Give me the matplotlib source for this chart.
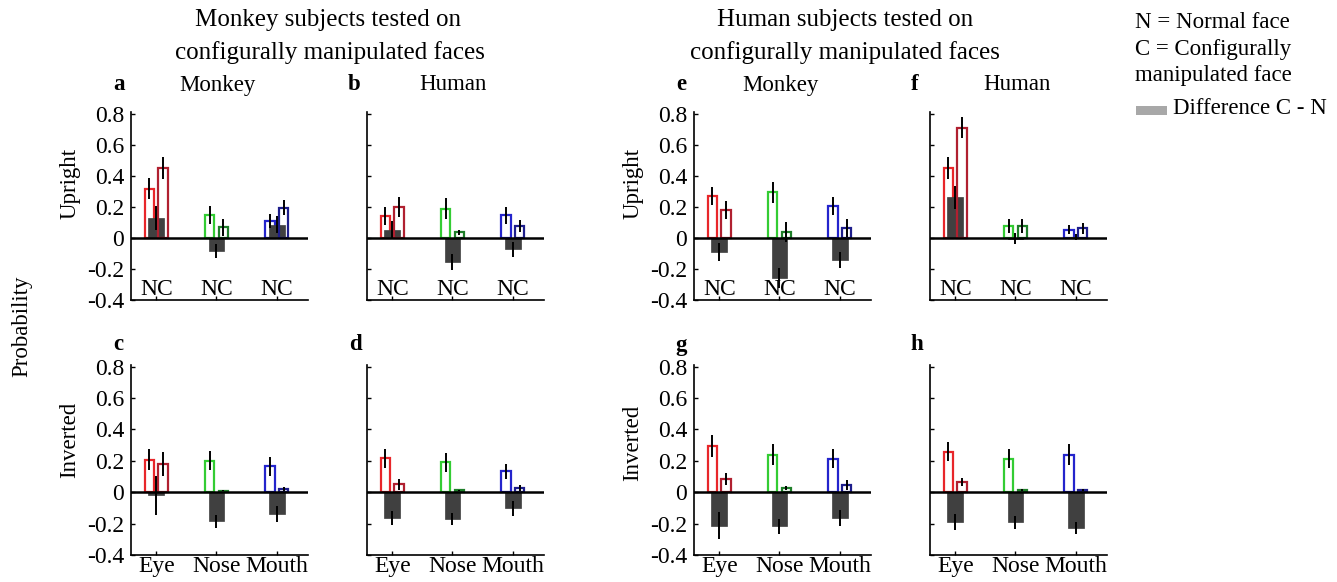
import matplotlib
matplotlib.use("Agg")
import matplotlib.pyplot as plt
from matplotlib.patches import Rectangle
import numpy as np

plt.rcParams['font.family'] = ['Liberation Serif', 'DejaVu Serif']

features = ["Eye", "Nose", "Mouth"]
yticks = [-0.4, -0.2, 0, 0.2, 0.4, 0.6, 0.8]
ytick_labels = ["-0.4", "-0.2", "0", "0.2", "0.4", "0.6", "0.8"]

# Panel values: N = normal face, C = configurally manipulated, D = difference C - N
a_N = [0.317, 0.146, 0.106]; a_Nerr = [0.07, 0.058, 0.045]
a_C = [0.449, 0.068, 0.195]; a_Cerr = [0.073, 0.055, 0.05]
a_D = [0.127, -0.085, 0.085]; a_Derr = [0.075, 0.045, 0.055]

b_N = [0.142, 0.188, 0.146]; b_Nerr = [0.057, 0.067, 0.055]
b_C = [0.199, 0.036, 0.076]; b_Cerr = [0.063, 0.015, 0.038]
b_D = [0.053, -0.155, -0.074]; b_Derr = [0.058, 0.05, 0.05]

c_N = [0.208, 0.200, 0.164]; c_Nerr = [0.067, 0.061, 0.063]
c_C = [0.179, 0.010, 0.021]; c_Cerr = [0.076, 0.005, 0.012]
c_D = [-0.021, -0.185, -0.137]; c_Derr = [0.126, 0.042, 0.05]

d_N = [0.215, 0.190, 0.133]; d_Nerr = [0.06, 0.062, 0.048]
d_C = [0.050, 0.011, 0.027]; d_Cerr = [0.035, 0.005, 0.018]
d_D = [-0.162, -0.171, -0.101]; d_Derr = [0.045, 0.04, 0.048]

e_N = [0.269, 0.292, 0.205]; e_Nerr = [0.06, 0.069, 0.056]
e_C = [0.180, 0.036, 0.061]; e_Cerr = [0.058, 0.065, 0.058]
e_D = [-0.091, -0.258, -0.144]; e_Derr = [0.058, 0.063, 0.05]

f_N = [0.450, 0.077, 0.052]; f_Nerr = [0.073, 0.045, 0.03]
f_C = [0.710, 0.077, 0.063]; f_Cerr = [0.065, 0.045, 0.035]
f_D = [0.260, -0.005, 0.005]; f_Derr = [0.075, 0.035, 0.02]

g_N = [0.295, 0.238, 0.213]; g_Nerr = [0.068, 0.066, 0.061]
g_C = [0.086, 0.025, 0.046]; g_Cerr = [0.039, 0.012, 0.03]
g_D = [-0.213, -0.217, -0.164]; g_Derr = [0.084, 0.047, 0.052]

h_N = [0.257, 0.213, 0.238]; h_Nerr = [0.06, 0.06, 0.066]
h_C = [0.065, 0.013, 0.013]; h_Cerr = [0.026, 0.005, 0.005]
h_D = [-0.192, -0.192, -0.228]; h_Derr = [0.05, 0.04, 0.036]

N_colors = ['#e8262a', '#33cc33', '#2424cc']
C_colors = ['#b02030', '#1f7f2a', '#1e1e8c']
diff_color = '#404040'

W, H = 1337, 582
fig = plt.figure(figsize=(W / 100, H / 100), dpi=100)

def ax_at(left, top, right, bottom):
    return fig.add_axes([left / W, 1 - bottom / H, (right - left) / W, (bottom - top) / H])

FS = 17
LFS = 16.5

def draw_panel(ax, N, Nerr, C, Cerr, D, Derr, show_y, top_row):
    x = np.arange(1, 4)
    off, wn, wd = 0.115, 0.16, 0.26
    ax.bar(x - off, N, width=wn, facecolor='white', edgecolor=N_colors, linewidth=1.6, zorder=2)
    ax.bar(x, D, width=wd, color=diff_color, edgecolor=diff_color, linewidth=0.5, zorder=3)
    ax.bar(x + off, C, width=wn, facecolor='none', edgecolor=C_colors, linewidth=1.6, zorder=4)
    ax.errorbar(x - off, N, yerr=Nerr, fmt='none', ecolor='black', elinewidth=1.4, capsize=0, zorder=5)
    ax.errorbar(x + off, C, yerr=Cerr, fmt='none', ecolor='black', elinewidth=1.4, capsize=0, zorder=5)
    ax.errorbar(x, D, yerr=Derr, fmt='none', ecolor='black', elinewidth=1.4, capsize=0, zorder=5)
    ax.axhline(0, color='black', linewidth=1.8, zorder=6)
    ax.set_xlim(0.58, 3.52)
    ax.set_ylim(-0.4, 0.81)
    ax.set_yticks(yticks)
    ax.set_xticks(x)
    for s in ['top', 'right']:
        ax.spines[s].set_visible(False)
    for s in ['left', 'bottom']:
        ax.spines[s].set_linewidth(1.2)
    ax.tick_params(direction='in', length=3, width=1, labelsize=FS)
    ax.tick_params(axis='y', pad=5)
    if show_y:
        ax.set_yticklabels(ytick_labels)
    else:
        ax.set_yticklabels([])
    if top_row:
        ax.set_xticklabels([])
        for xi in x:
            ax.text(xi, -0.333, "NC", ha='center', va='center', fontsize=FS)
    else:
        ax.set_xticklabels(features)
        ax.tick_params(axis='x', pad=1)

lefts = [131, 367, 694, 930]
aw = 177
top_box = (112, 300)
bot_box = (365, 555)

panels = [
    (lefts[0], top_box, a_N, a_Nerr, a_C, a_Cerr, a_D, a_Derr, True, True),
    (lefts[1], top_box, b_N, b_Nerr, b_C, b_Cerr, b_D, b_Derr, False, True),
    (lefts[0], bot_box, c_N, c_Nerr, c_C, c_Cerr, c_D, c_Derr, True, False),
    (lefts[1], bot_box, d_N, d_Nerr, d_C, d_Cerr, d_D, d_Derr, False, False),
    (lefts[2], top_box, e_N, e_Nerr, e_C, e_Cerr, e_D, e_Derr, True, True),
    (lefts[3], top_box, f_N, f_Nerr, f_C, f_Cerr, f_D, f_Derr, False, True),
    (lefts[2], bot_box, g_N, g_Nerr, g_C, g_Cerr, g_D, g_Derr, True, False),
    (lefts[3], bot_box, h_N, h_Nerr, h_C, h_Cerr, h_D, h_Derr, False, False),
]
for left, (t, b), N, Ne, C, Ce, D, De, sy, tr in panels:
    ax = ax_at(left, t, left + aw, b)
    draw_panel(ax, N, Ne, C, Ce, D, De, sy, tr)

def ftext(x, y, s, **kw):
    kw.setdefault('fontsize', LFS)
    fig.text(x / W, 1 - y / H, s, **kw)

# Group titles
TFS = 18
ftext(328, 20, "Monkey subjects tested on", ha='center', va='center', fontsize=TFS)
ftext(330, 53, "configurally manipulated faces", ha='center', va='center', fontsize=TFS)
ftext(845, 20, "Human subjects tested on", ha='center', va='center', fontsize=TFS)
ftext(845, 53, "configurally manipulated faces", ha='center', va='center', fontsize=TFS)

# Panel letters and subtitles
for s, x, y in [("a", 119, 85), ("b", 354, 85), ("c", 118, 344), ("d", 355, 344),
                ("e", 681, 85), ("f", 915, 85), ("g", 681, 345), ("h", 917, 345)]:
    ftext(x, y, s, ha='center', va='center', fontweight='bold')
for s, x in [("Monkey", 217), ("Human", 453), ("Monkey", 780), ("Human", 1017)]:
    ftext(x, 85, s, ha='center', va='center')

# Row labels
ftext(70, 183, "Upright", ha='center', va='center', rotation=90)
ftext(70, 440, "Inverted", ha='center', va='center', rotation=90)
ftext(633, 183, "Upright", ha='center', va='center', rotation=90)
ftext(633, 443, "Inverted", ha='center', va='center', rotation=90)
ftext(22, 326, "Probability", ha='center', va='center', rotation=90)

# Legend text
ftext(1135, 22, "N = Normal face", ha='left', va='center')
ftext(1135, 49, "C = Configurally", ha='left', va='center')
ftext(1135, 76, "manipulated face", ha='left', va='center')
fig.patches.append(Rectangle((1136 / W, 1 - 115 / H), 31 / W, 9 / H,
                             transform=fig.transFigure, facecolor='#a8a8a8',
                             edgecolor='none'))
ftext(1173, 108, "Difference C - N", ha='left', va='center')

fig.savefig("out.png", dpi=100)
